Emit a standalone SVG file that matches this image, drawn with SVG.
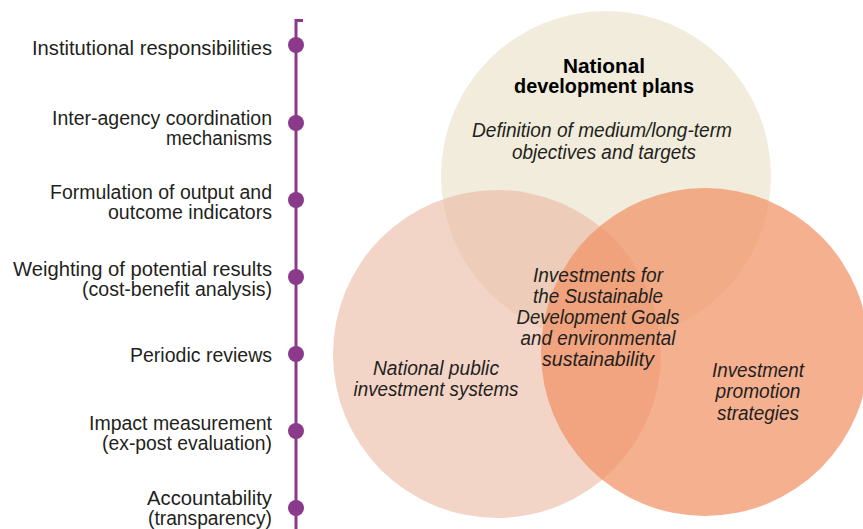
<svg xmlns="http://www.w3.org/2000/svg" width="863" height="529" viewBox="0 0 863 529">
<style>
.lbl{font-family:"Liberation Sans",Arial,sans-serif;font-size:20px;fill:#231f20;text-anchor:end}
.it{font-family:"Liberation Sans",Arial,sans-serif;font-size:20px;font-style:italic;fill:#231f20;text-anchor:middle}
.bd{font-family:"Liberation Sans",Arial,sans-serif;font-size:20px;font-weight:bold;fill:#000;text-anchor:middle}
.dot{fill:#8b3a8b}
.axis{stroke:#8b3a8b;stroke-width:3;fill:none}
</style>
<rect width="863" height="529" fill="#ffffff"/>
<g id="connectors">
<path class="axis" d="M303,20.5 H296 V529"/>
</g>
<g id="item1"><circle class="dot" cx="296" cy="45" r="8"/>
<text class="lbl" x="272" y="55" textLength="240" lengthAdjust="spacingAndGlyphs">Institutional responsibilities</text></g>
<g id="item2"><circle class="dot" cx="296" cy="123" r="8"/>
<text class="lbl" x="272" y="125" textLength="220" lengthAdjust="spacingAndGlyphs">Inter-agency coordination</text>
<text class="lbl" x="272" y="145" textLength="106" lengthAdjust="spacingAndGlyphs">mechanisms</text></g>
<g id="item3"><circle class="dot" cx="296" cy="200" r="8"/>
<text class="lbl" x="272" y="199" textLength="222" lengthAdjust="spacingAndGlyphs">Formulation of output and</text>
<text class="lbl" x="272" y="219" textLength="164" lengthAdjust="spacingAndGlyphs">outcome indicators</text></g>
<g id="item4"><circle class="dot" cx="296" cy="277" r="8"/>
<text class="lbl" x="272" y="276" textLength="259" lengthAdjust="spacingAndGlyphs">Weighting of potential results</text>
<text class="lbl" x="272" y="296" textLength="190" lengthAdjust="spacingAndGlyphs">(cost-benefit analysis)</text></g>
<g id="item5"><circle class="dot" cx="296" cy="354" r="8"/>
<text class="lbl" x="272" y="362" textLength="142" lengthAdjust="spacingAndGlyphs">Periodic reviews</text></g>
<g id="item6"><circle class="dot" cx="296" cy="431" r="8"/>
<text class="lbl" x="272" y="430" textLength="183" lengthAdjust="spacingAndGlyphs">Impact measurement</text>
<text class="lbl" x="272" y="450" textLength="170" lengthAdjust="spacingAndGlyphs">(ex-post evaluation)</text></g>
<g id="item7"><circle class="dot" cx="296" cy="508" r="8"/>
<text class="lbl" x="272" y="505" textLength="125" lengthAdjust="spacingAndGlyphs">Accountability</text>
<text class="lbl" x="272" y="525" textLength="124" lengthAdjust="spacingAndGlyphs">(transparency)</text></g>
<g id="circle-plans"><circle cx="606" cy="176" r="165" fill="#f1ecdc"/></g>
<g id="circle-public"><circle cx="497" cy="354" r="164" fill="#eab59e" fill-opacity="0.57"/></g>
<g id="circle-promotion"><circle cx="705" cy="352" r="164" fill="#f19063" fill-opacity="0.71"/></g>
<g id="label-plans">
<text class="bd" x="604" y="73" textLength="82" lengthAdjust="spacingAndGlyphs">National</text>
<text class="bd" x="604" y="93" textLength="180" lengthAdjust="spacingAndGlyphs">development plans</text>
<text class="it" x="602" y="137" textLength="260" lengthAdjust="spacingAndGlyphs">Definition of medium/long-term</text>
<text class="it" x="604" y="159" textLength="184" lengthAdjust="spacingAndGlyphs">objectives and targets</text>
</g>
<g id="label-center">
<text class="it" x="598" y="282" textLength="130" lengthAdjust="spacingAndGlyphs">Investments for</text>
<text class="it" x="598" y="303" textLength="130" lengthAdjust="spacingAndGlyphs">the Sustainable</text>
<text class="it" x="598" y="324" textLength="163" lengthAdjust="spacingAndGlyphs">Development Goals</text>
<text class="it" x="598" y="345" textLength="155" lengthAdjust="spacingAndGlyphs">and environmental</text>
<text class="it" x="598" y="366" textLength="112" lengthAdjust="spacingAndGlyphs">sustainability</text>
</g>
<g id="label-public">
<text class="it" x="436" y="375" textLength="126" lengthAdjust="spacingAndGlyphs">National public</text>
<text class="it" x="436" y="396" textLength="165" lengthAdjust="spacingAndGlyphs">investment systems</text>
</g>
<g id="label-promotion">
<text class="it" x="758" y="377" textLength="92" lengthAdjust="spacingAndGlyphs">Investment</text>
<text class="it" x="758" y="398" textLength="85" lengthAdjust="spacingAndGlyphs">promotion</text>
<text class="it" x="758" y="420" textLength="82" lengthAdjust="spacingAndGlyphs">strategies</text>
</g>
</svg>
